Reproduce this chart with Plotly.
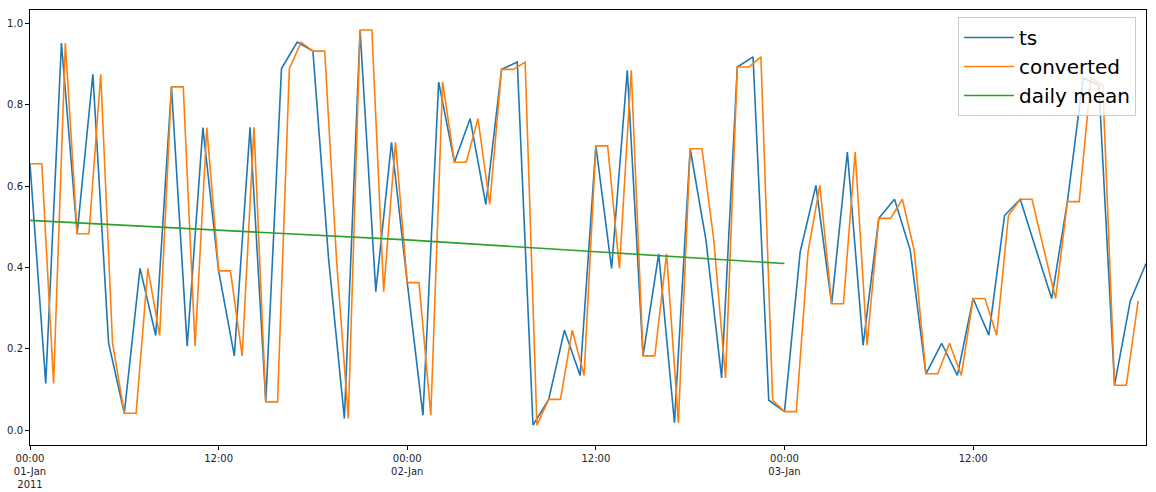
import pandas as pd
import plotly.graph_objects as go

# hourly series values, 2011-01-01 00:00 .. 2011-01-03 23:00
ts_values = [
    0.655, 0.115, 0.952, 0.483, 0.875, 0.215, 0.042, 0.398, 0.233, 0.844, 0.207, 0.744,
    0.392, 0.183, 0.745, 0.070, 0.889, 0.954, 0.932, 0.420, 0.029, 0.984, 0.341, 0.708,
    0.363, 0.037, 0.856, 0.659, 0.766, 0.555, 0.887, 0.905, 0.013, 0.076, 0.246, 0.135,
    0.699, 0.398, 0.885, 0.183, 0.434, 0.019, 0.692, 0.469, 0.129, 0.893, 0.918, 0.074,
    0.046, 0.439, 0.602, 0.311, 0.684, 0.209, 0.521, 0.568, 0.443, 0.139, 0.214, 0.135,
    0.324, 0.234, 0.528, 0.568, 0.445, 0.324, 0.562, 0.866, 0.848, 0.111, 0.318, 0.410,
]

# 45-minute series values
converted_values = [
    0.655, 0.655, 0.115, 0.952, 0.483, 0.483, 0.875, 0.215,
    0.042, 0.042, 0.398, 0.233, 0.844, 0.844, 0.207, 0.744,
    0.392, 0.392, 0.183, 0.745, 0.070, 0.070, 0.889, 0.954,
    0.932, 0.932, 0.420, 0.029, 0.984, 0.984, 0.341, 0.708,
    0.363, 0.363, 0.037, 0.856, 0.659, 0.659, 0.766, 0.555,
    0.887, 0.887, 0.905, 0.013, 0.076, 0.076, 0.246, 0.135,
    0.699, 0.699, 0.398, 0.885, 0.183, 0.183, 0.434, 0.019,
    0.692, 0.692, 0.469, 0.129, 0.893, 0.893, 0.918, 0.074,
    0.046, 0.046, 0.439, 0.602, 0.311, 0.311, 0.684, 0.209,
    0.521, 0.521, 0.568, 0.443, 0.139, 0.139, 0.214, 0.135,
    0.324, 0.324, 0.234, 0.528, 0.568, 0.568, 0.445, 0.324,
    0.562, 0.562, 0.866, 0.848, 0.111, 0.111, 0.318,
]

# daily mean values
daily_mean_values = [0.516, 0.468, 0.410]

tick_labels = ["00:00<br>01-Jan<br>2011", "12:00", "00:00<br>02-Jan", "12:00", "00:00<br>03-Jan", "12:00"]

ts_index = pd.date_range("2011-01-01", periods=len(ts_values), freq="h")
conv_index = pd.date_range("2011-01-01", periods=len(converted_values), freq="45min")
daily_index = pd.date_range("2011-01-01", periods=len(daily_mean_values), freq="D")
tick_vals = pd.date_range("2011-01-01", periods=len(tick_labels), freq="12h")

fig = go.Figure()
fig.add_trace(go.Scatter(x=ts_index, y=ts_values, mode="lines", name="ts",
                         line=dict(color="#1f77b4", width=1.6)))
fig.add_trace(go.Scatter(x=conv_index, y=converted_values, mode="lines", name="converted",
                         line=dict(color="#ff7f0e", width=1.6)))
fig.add_trace(go.Scatter(x=daily_index, y=daily_mean_values, mode="lines", name="daily mean",
                         line=dict(color="#2ca02c", width=1.6)))

axis_common = dict(showline=True, linecolor="black", linewidth=1, mirror=True,
                   showgrid=False, zeroline=False, ticks="outside", ticklen=4,
                   tickcolor="black", tickwidth=1, automargin=False,
                   tickfont=dict(family="DejaVu Sans", size=10, color="#222222"))

fig.update_layout(
    width=1156, height=492,
    margin=dict(l=30, r=10, t=10, b=47, autoexpand=False),
    paper_bgcolor="white", plot_bgcolor="white",
    font=dict(family="DejaVu Sans", color="black"),
    xaxis=dict(range=[ts_index[0], ts_index[-1]], tickvals=tick_vals, ticktext=tick_labels,
               **axis_common),
    yaxis=dict(range=[-0.036, 1.033], tickvals=[0, 0.2, 0.4, 0.6, 0.8, 1.0],
               tickformat=".1f", **axis_common),
    legend=dict(x=0.991, y=0.984, xanchor="right", yanchor="top",
                bgcolor="rgba(255,255,255,0.8)", bordercolor="#cccccc", borderwidth=1,
                font=dict(family="DejaVu Sans", size=20, color="black"),
                itemwidth=50, tracegroupgap=0),
    showlegend=True,
)

fig.write_html("out.html", config={"displayModeBar": False},
               post_script="document.body.style.margin='0';")
